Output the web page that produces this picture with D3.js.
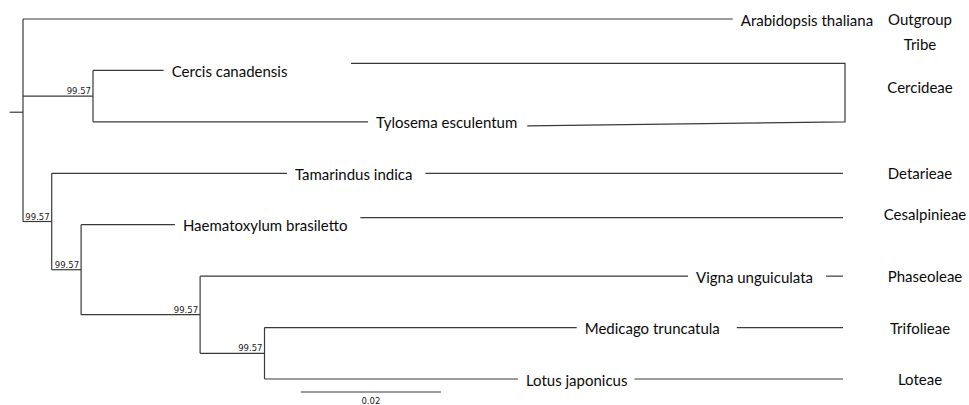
<!DOCTYPE html>
<html>
<head>
<meta charset="utf-8">
<script src="https://cdn.jsdelivr.net/npm/d3@7"></script>
<style>
  html, body { margin: 0; padding: 0; background: #fff; }
  svg { display: block; }
  .taxon { font-family: Lato, "Open Sans", sans-serif; font-size: 15px; fill: #0a0a0a; }
  .tribe { font-family: Lato, "Open Sans", sans-serif; font-size: 15px; fill: #0a0a0a; }
  .support, .scale-label { font-family: "DejaVu Sans", sans-serif; font-size: 8.5px; fill: #1a1a1a; }
</style>
</head>
<body>
<svg id="chart" width="969" height="405"></svg>
<script>
// Phylogeny: node table (id, parent, branch length, bootstrap support)
const nodeIds = ["root", "Arabidopsis thaliana", "cercideae", "Cercis canadensis", "Tylosema esculentum",
  "legumes", "Tamarindus indica", "caesalp", "Haematoxylum brasiletto", "papilion",
  "Vigna unguiculata", "hologalegina", "Medicago truncatula", "Lotus japonicus"];
const parentIds = ["", "root", "root", "cercideae", "cercideae",
  "root", "legumes", "legumes", "caesalp", "caesalp",
  "papilion", "papilion", "hologalegina", "hologalegina"];
const branchLengths = [0.0019, 0.1014, 0.0100, 0.0101, 0.0393,
  0.0041, 0.0336, 0.0042, 0.0134, 0.0170,
  0.0697, 0.0092, 0.0446, 0.0362];
const supportValues = [null, null, 99.57, null, null,
  99.57, null, 99.57, null, 99.57,
  null, 99.57, null, null];

// Tribe assignments shown in the right-hand column
const tribeHeader = "Tribe";
const tribeNames = ["Outgroup", "Cercideae", "Detarieae", "Cesalpinieae", "Phaseoleae", "Trifolieae", "Loteae"];
const tribeMembers = [["Arabidopsis thaliana"], ["Cercis canadensis", "Tylosema esculentum"], ["Tamarindus indica"],
  ["Haematoxylum brasiletto"], ["Vigna unguiculata"], ["Medicago truncatula"], ["Lotus japonicus"]];

// Scale bar
const scaleBarLength = 0.02;
const scaleBarLabel = "0.02";

const svg = d3.select("#chart");
const stroke = "#3a3a3a";

const table = nodeIds.map((id, i) => ({ id, parent: parentIds[i] || null, length: branchLengths[i], support: supportValues[i] }));
const root = d3.stratify().id(d => d.id).parentId(d => d.parent)(table);

// cumulative distance from the root
root.each(d => { d.dist = d.parent ? d.parent.dist + d.data.length : 0; });

const leaves = root.leaves();
const x = d3.scaleLinear().domain([0, 0.1]).range([23, 723]);
const y = d3.scaleLinear().domain([0, leaves.length - 1]).range([19, 379]);

leaves.forEach((d, i) => { d.yPos = y(i); });
root.eachAfter(d => { if (d.children) d.yPos = d3.mean(d.children, c => c.yPos); });

const g = svg.append("g").attr("fill", "none").attr("stroke", stroke).attr("stroke-width", 1.2);

// root stem
g.append("line")
  .attr("x1", x(-root.data.length)).attr("x2", x(0))
  .attr("y1", root.yPos).attr("y2", root.yPos);

// horizontal branches
g.selectAll("line.branch")
  .data(root.descendants().filter(d => d.parent))
  .join("line")
  .attr("class", "branch")
  .attr("x1", d => x(d.parent.dist)).attr("x2", d => x(d.dist))
  .attr("y1", d => d.yPos).attr("y2", d => d.yPos);

// vertical connectors at internal nodes
g.selectAll("line.vert")
  .data(root.descendants().filter(d => d.children))
  .join("line")
  .attr("class", "vert")
  .attr("x1", d => x(d.dist)).attr("x2", d => x(d.dist))
  .attr("y1", d => d.children[0].yPos).attr("y2", d => d.children[d.children.length - 1].yPos);

// support values
svg.selectAll("text.support")
  .data(root.descendants().filter(d => d.data.support != null))
  .join("text")
  .attr("class", "support")
  .attr("text-anchor", "end")
  .attr("x", d => x(d.dist) - 2)
  .attr("y", d => d.yPos - 2)
  .text(d => d.data.support.toFixed(2));

// tip labels
const tipLabels = svg.selectAll("text.taxon")
  .data(leaves)
  .join("text")
  .attr("class", "taxon")
  .attr("x", d => x(d.dist) + 8)
  .attr("y", d => d.yPos + 0.5)
  .attr("dominant-baseline", "central")
  .text(d => d.id);

const labelEnd = {};
tipLabels.each(function(d) { labelEnd[d.id] = x(d.dist) + 8 + this.getComputedTextLength(); });
const tipY = {};
leaves.forEach(d => { tipY[d.id] = d.yPos; });

// leader lines from each label to the tribe column
const columnX = 845;
const ann = svg.append("g").attr("fill", "none").attr("stroke", stroke).attr("stroke-width", 1.2);
const leaderGap = { "Tamarindus indica": 13, "Haematoxylum brasiletto": 13, "Vigna unguiculata": 13,
  "Medicago truncatula": 17, "Lotus japonicus": 7, "Tylosema esculentum": 10 };

tribeMembers.forEach((members, ti) => {
  if (tribeNames[ti] === "Outgroup") return;
  if (members.length > 1) {
    // bracket spanning the clade
    const top = tipY[members[0]] - 7, bot = tipY[members[members.length - 1]];
    ann.append("polyline")
      .attr("points", [[351, top], [columnX, top], [columnX, bot], [labelEnd[members[1]] + leaderGap[members[1]], bot + 4]].join(" "));
  } else {
    const m = members[0];
    const yy = m === "Haematoxylum brasiletto" ? tipY[m] - 7 : tipY[m];
    ann.append("line")
      .attr("x1", labelEnd[m] + leaderGap[m]).attr("x2", columnX - 2)
      .attr("y1", yy).attr("y2", yy);
  }
});

// tribe column
const tribeX = 920;
const tribeY = { "Outgroup": tipY["Arabidopsis thaliana"], "Cercideae": 87, "Cesalpinieae": 214 };
svg.append("text").attr("class", "tribe").attr("text-anchor", "middle")
  .attr("x", tribeX).attr("y", 44).attr("dominant-baseline", "central").text(tribeHeader);
svg.selectAll("text.tribe-name")
  .data(tribeNames)
  .join("text")
  .attr("class", "tribe tribe-name")
  .attr("text-anchor", "middle")
  .attr("x", d => d === "Cesalpinieae" || d === "Phaseoleae" ? tribeX + 5 : tribeX)
  .attr("y", (d, i) => tribeY[d] != null ? tribeY[d] : tipY[tribeMembers[i][0]])
  .attr("dominant-baseline", "central")
  .text(d => d);

// scale bar
const sb = svg.append("g");
sb.append("line")
  .attr("x1", x(0.0397)).attr("x2", x(0.0397 + scaleBarLength))
  .attr("y1", 392).attr("y2", 392)
  .attr("stroke", stroke).attr("stroke-width", 1.2);
sb.append("text").attr("class", "scale-label").attr("text-anchor", "middle")
  .attr("x", x(0.0397 + scaleBarLength / 2)).attr("y", 404)
  .text(scaleBarLabel);
</script>
</body>
</html>
